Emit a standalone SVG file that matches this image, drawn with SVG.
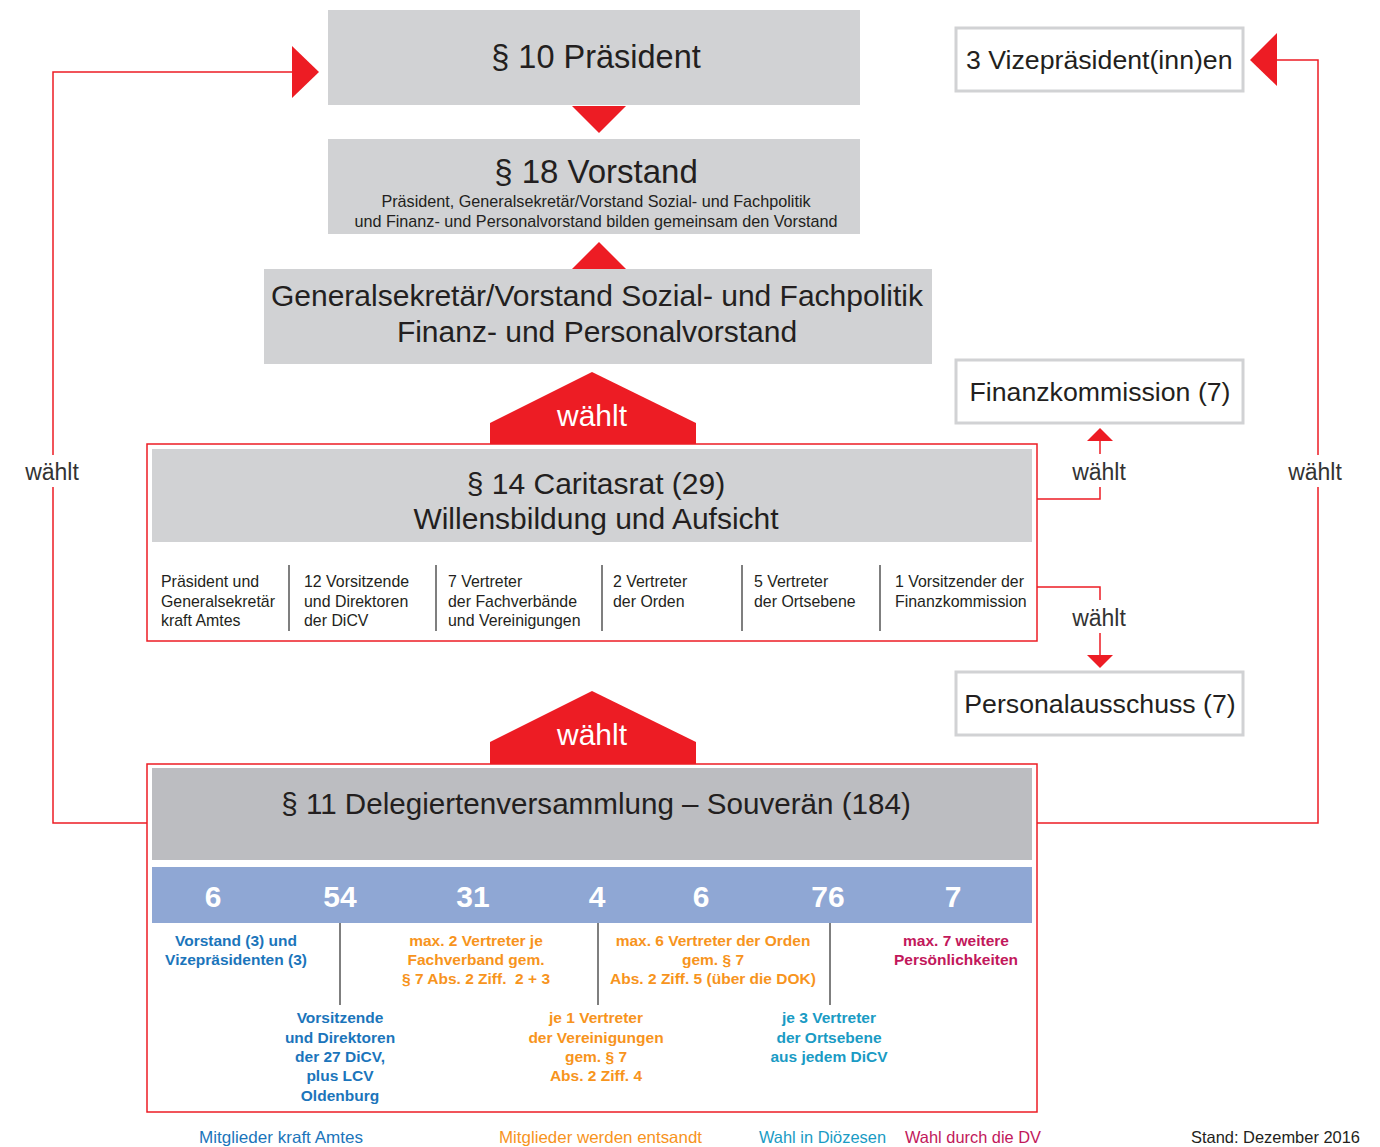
<svg xmlns="http://www.w3.org/2000/svg" width="1380" height="1147" viewBox="0 0 1380 1147">
<style>
text{font-family:"Liberation Sans",Arial,sans-serif;fill:#231f20}
.c{text-anchor:middle}
.t32{font-size:32.5px}
.t33{font-size:33px}
.t30{font-size:30px}
.t26{font-size:26.7px}
.t22{font-size:23px;fill:#333}
.s15{font-size:16.2px}
.s16{font-size:15.9px}
.grey{fill:#d1d2d4}
.wbox{fill:#fff;stroke:#d1d2d4;stroke-width:3}
.redbox{fill:none;stroke:#ed1c24;stroke-width:1.5}
.red{fill:#ed1c24}
.conn{fill:none;stroke:#ed1c24;stroke-width:1.5}
.sep{stroke:#555;stroke-width:1.5}
.wh{font-size:30px;fill:#fff}
.num{font-size:30px;font-weight:bold;fill:#fff}
.b{font-size:15.5px;font-weight:bold}
.blue{fill:#1b75bb}
.orange{fill:#f7941d}
.mag{fill:#c2185b}
.teal{fill:#1a9bc4}
.foot{font-size:16.5px}
.pre{white-space:pre}
</style>

<g id="connectors">
  <path class="conn" d="M147 823 H53 V487 M53 455 V72 H293"/>
  <polygon class="red" points="292,46 319,72 292,98"/>
  <text class="t22 c" x="52" y="480">wählt</text>
  <path class="conn" d="M1037 823 H1318 V487 M1318 455 V60 H1276"/>
  <polygon class="red" points="1277,33 1250,60 1277,86"/>
  <text class="t22 c" x="1315" y="480">wählt</text>
  <path class="conn" d="M1037 499 H1100 V487 M1100 454 V441"/>
  <polygon class="red" points="1087,441 1100,428 1113,441"/>
  <text class="t22 c" x="1099" y="480">wählt</text>
  <path class="conn" d="M1037 587 H1100 V600 M1100 633 V656"/>
  <polygon class="red" points="1087,655 1100,668 1113,655"/>
  <text class="t22 c" x="1099" y="626">wählt</text>
  <polygon class="red" points="572,106 626,106 599,133"/>
  <polygon class="red" points="572,269 626,269 599,242"/>
  <polygon class="red" points="490,444 490,423 592,372 696,423 696,444"/>
  <text class="wh c" x="592" y="426">wählt</text>
  <polygon class="red" points="490,764 490,742 592,691 696,742 696,764"/>
  <text class="wh c" x="592" y="745">wählt</text>
</g>

<g id="praesident">
  <rect class="grey" x="328" y="10" width="532" height="95"/>
  <text class="t32 c" x="596" y="68">§ 10 Präsident</text>
</g>

<g id="vorstand">
  <rect class="grey" x="328" y="139" width="532" height="95"/>
  <text class="t33 c" x="596" y="183">§ 18 Vorstand</text>
  <text class="s15 c" x="596" y="207">Präsident, Generalsekretär/Vorstand Sozial- und Fachpolitik</text>
  <text class="s15 c" x="596" y="227">und Finanz- und Personalvorstand bilden gemeinsam den Vorstand</text>
</g>

<g id="generalsekretaer">
  <rect class="grey" x="264" y="269" width="668" height="95"/>
  <text class="t30 c" x="597" y="306">Generalsekretär/Vorstand Sozial- und Fachpolitik</text>
  <text class="t30 c" x="597" y="342">Finanz- und Personalvorstand</text>
</g>

<g id="vizepraesidenten">
  <rect class="wbox" x="956" y="28" width="287" height="63"/>
  <text class="t26" x="966" y="69">3 Vizepräsident(inn)en</text>
</g>

<g id="finanzkommission">
  <rect class="wbox" x="956" y="360" width="287" height="63"/>
  <text class="t26 c" x="1100" y="401">Finanzkommission (7)</text>
</g>

<g id="personalausschuss">
  <rect class="wbox" x="956" y="672" width="287" height="63"/>
  <text class="t26 c" x="1100" y="713">Personalausschuss (7)</text>
</g>

<g id="caritasrat">
  <rect class="redbox" x="147" y="444" width="890" height="197"/>
  <rect class="grey" x="152" y="449" width="880" height="93"/>
  <text class="t30 c" x="596" y="494">§ 14 Caritasrat (29)</text>
  <text class="t30 c" x="596" y="529">Willensbildung und Aufsicht</text>
  <g class="sep">
    <line x1="289" y1="565" x2="289" y2="631"/>
    <line x1="436" y1="565" x2="436" y2="631"/>
    <line x1="602" y1="565" x2="602" y2="631"/>
    <line x1="742" y1="565" x2="742" y2="631"/>
    <line x1="880" y1="565" x2="880" y2="631"/>
  </g>
  <text class="s16" x="161" y="587">Präsident und</text>
  <text class="s16" x="161" y="607">Generalsekretär</text>
  <text class="s16" x="161" y="626">kraft Amtes</text>
  <text class="s16" x="304" y="587">12 Vorsitzende</text>
  <text class="s16" x="304" y="607">und Direktoren</text>
  <text class="s16" x="304" y="626">der DiCV</text>
  <text class="s16" x="448" y="587">7 Vertreter</text>
  <text class="s16" x="448" y="607">der Fachverbände</text>
  <text class="s16" x="448" y="626">und Vereinigungen</text>
  <text class="s16" x="613" y="587">2 Vertreter</text>
  <text class="s16" x="613" y="607">der Orden</text>
  <text class="s16" x="754" y="587">5 Vertreter</text>
  <text class="s16" x="754" y="607">der Ortsebene</text>
  <text class="s16" x="895" y="587">1 Vorsitzender der</text>
  <text class="s16" x="895" y="607">Finanzkommission</text>
</g>

<g id="delegiertenversammlung">
  <rect class="redbox" x="147" y="764" width="890" height="348"/>
  <rect x="152" y="768" width="880" height="92" fill="#bcbdc1"/>
  <text class="c" style="font-size:29.6px" x="596" y="814">§ 11 Delegiertenversammlung – Souverän (184)</text>
  <rect x="152" y="867" width="880" height="56" fill="#8fa7d4"/>
  <text class="num c" x="213" y="907">6</text>
  <text class="num c" x="340" y="907">54</text>
  <text class="num c" x="473" y="907">31</text>
  <text class="num c" x="597" y="907">4</text>
  <text class="num c" x="701" y="907">6</text>
  <text class="num c" x="828" y="907">76</text>
  <text class="num c" x="953" y="907">7</text>
  <g class="sep">
    <line x1="340" y1="923" x2="340" y2="1005"/>
    <line x1="598" y1="923" x2="598" y2="1005"/>
    <line x1="830" y1="923" x2="830" y2="1005"/>
  </g>
  <g class="b c">
    <text class="blue" x="236" y="946">Vorstand (3) und</text>
    <text class="blue" x="236" y="965">Vizepräsidenten (3)</text>
    <text class="orange" x="476" y="946">max. 2 Vertreter je</text>
    <text class="orange" x="476" y="965">Fachverband gem.</text>
    <text class="orange pre" x="476" y="984">§ 7 Abs. 2 Ziff.  2 + 3</text>
    <text class="orange" x="713" y="946">max. 6 Vertreter der Orden</text>
    <text class="orange" x="713" y="965">gem. § 7</text>
    <text class="orange" x="713" y="984">Abs. 2 Ziff. 5 (über die DOK)</text>
    <text class="mag" x="956" y="946">max. 7 weitere</text>
    <text class="mag" x="956" y="965">Persönlichkeiten</text>
    <text class="blue" x="340" y="1023">Vorsitzende</text>
    <text class="blue" x="340" y="1043">und Direktoren</text>
    <text class="blue" x="340" y="1062">der 27 DiCV,</text>
    <text class="blue" x="340" y="1081">plus LCV</text>
    <text class="blue" x="340" y="1101">Oldenburg</text>
    <text class="orange" x="596" y="1023">je 1 Vertreter</text>
    <text class="orange" x="596" y="1043">der Vereinigungen</text>
    <text class="orange" x="596" y="1062">gem. § 7</text>
    <text class="orange" x="596" y="1081">Abs. 2 Ziff. 4</text>
    <text class="teal" x="829" y="1023">je 3 Vertreter</text>
    <text class="teal" x="829" y="1043">der Ortsebene</text>
    <text class="teal" x="829" y="1062">aus jedem DiCV</text>
  </g>
</g>

<g id="legende">
  <text class="foot blue" x="199" y="1143" textLength="164" lengthAdjust="spacingAndGlyphs">Mitglieder kraft Amtes</text>
  <text class="foot orange" x="499" y="1143" textLength="203" lengthAdjust="spacingAndGlyphs">Mitglieder werden entsandt</text>
  <text class="foot teal" x="759" y="1143" textLength="127" lengthAdjust="spacingAndGlyphs">Wahl in Diözesen</text>
  <text class="foot mag" x="905" y="1143" textLength="136" lengthAdjust="spacingAndGlyphs">Wahl durch die DV</text>
  <text class="foot" x="1191" y="1143" textLength="169" lengthAdjust="spacingAndGlyphs">Stand: Dezember 2016</text>
</g>
</svg>
